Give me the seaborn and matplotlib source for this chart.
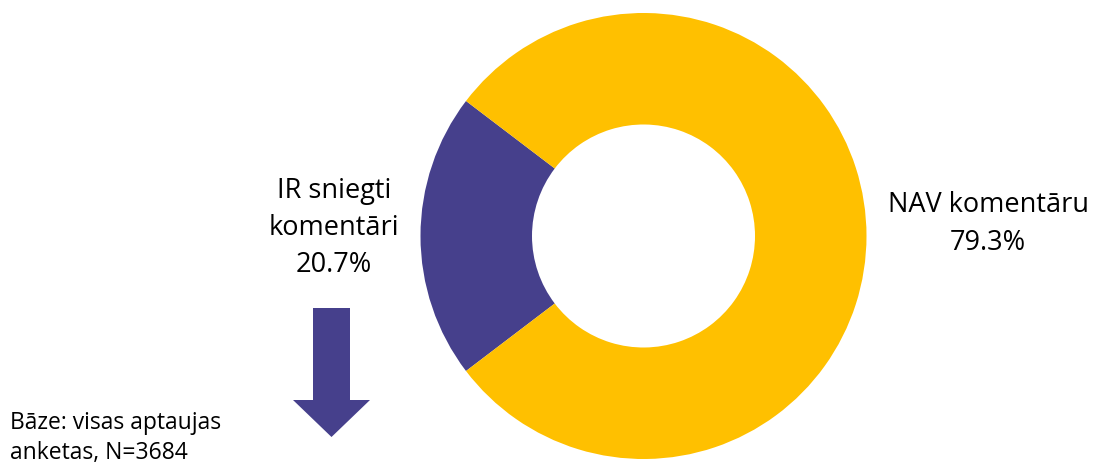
import matplotlib
matplotlib.use("Agg")
import matplotlib.pyplot as plt
import seaborn as sns

# Data
categories = ["IR sniegti\nkomentāri", "NAV komentāru"]
shares = [20.7, 79.3]
colors = ["#46408C", "#FFC000"]
note = "Bāze: visas aptaujas\nanketas, N=3684"

sns.set_theme(style="white")
plt.rcParams["font.family"] = ["Open Sans", "DejaVu Sans"]

W, H = 1095, 465
fig = plt.figure(figsize=(W / 100, H / 100), dpi=100)

# donut axes (square, placed in pixel units)
cx, cy, r = 643.5, 236, 223
ax = fig.add_axes([(cx - r) / W, (H - cy - r) / H, 2 * r / W, 2 * r / H])
start = 180 - shares[0] / 100 * 360 / 2
ax.pie(shares, colors=colors, startangle=start, counterclock=True,
       radius=1, wedgeprops=dict(width=0.5, linewidth=0))
ax.set_xlim(-1, 1)
ax.set_ylim(-1, 1)
ax.set_aspect("equal")
ax.axis("off")

# overlay in pixel coords for labels, arrow and note
ov = fig.add_axes([0, 0, 1, 1])
ov.set_xlim(0, W)
ov.set_ylim(H, 0)
ov.axis("off")

ov.text(334, 228, f"{categories[0]}\n{shares[0]:.1f}%", ha="center", va="center",
        fontsize=19.5, color="black", linespacing=1.45)
ov.text(988, 224, f"{categories[1]}\n{shares[1]:.1f}%", ha="center", va="center",
        fontsize=19.5, color="black", linespacing=1.45)

ov.fill([313, 350, 350, 370, 331.5, 293, 313, 313],
        [308, 308, 400, 400, 437, 400, 400, 308],
        color=colors[0], lw=0)

ov.text(10, 438, note, ha="left", va="center", fontsize=16.5, color="black",
        linespacing=1.3)

fig.savefig("out.png", dpi=100)
